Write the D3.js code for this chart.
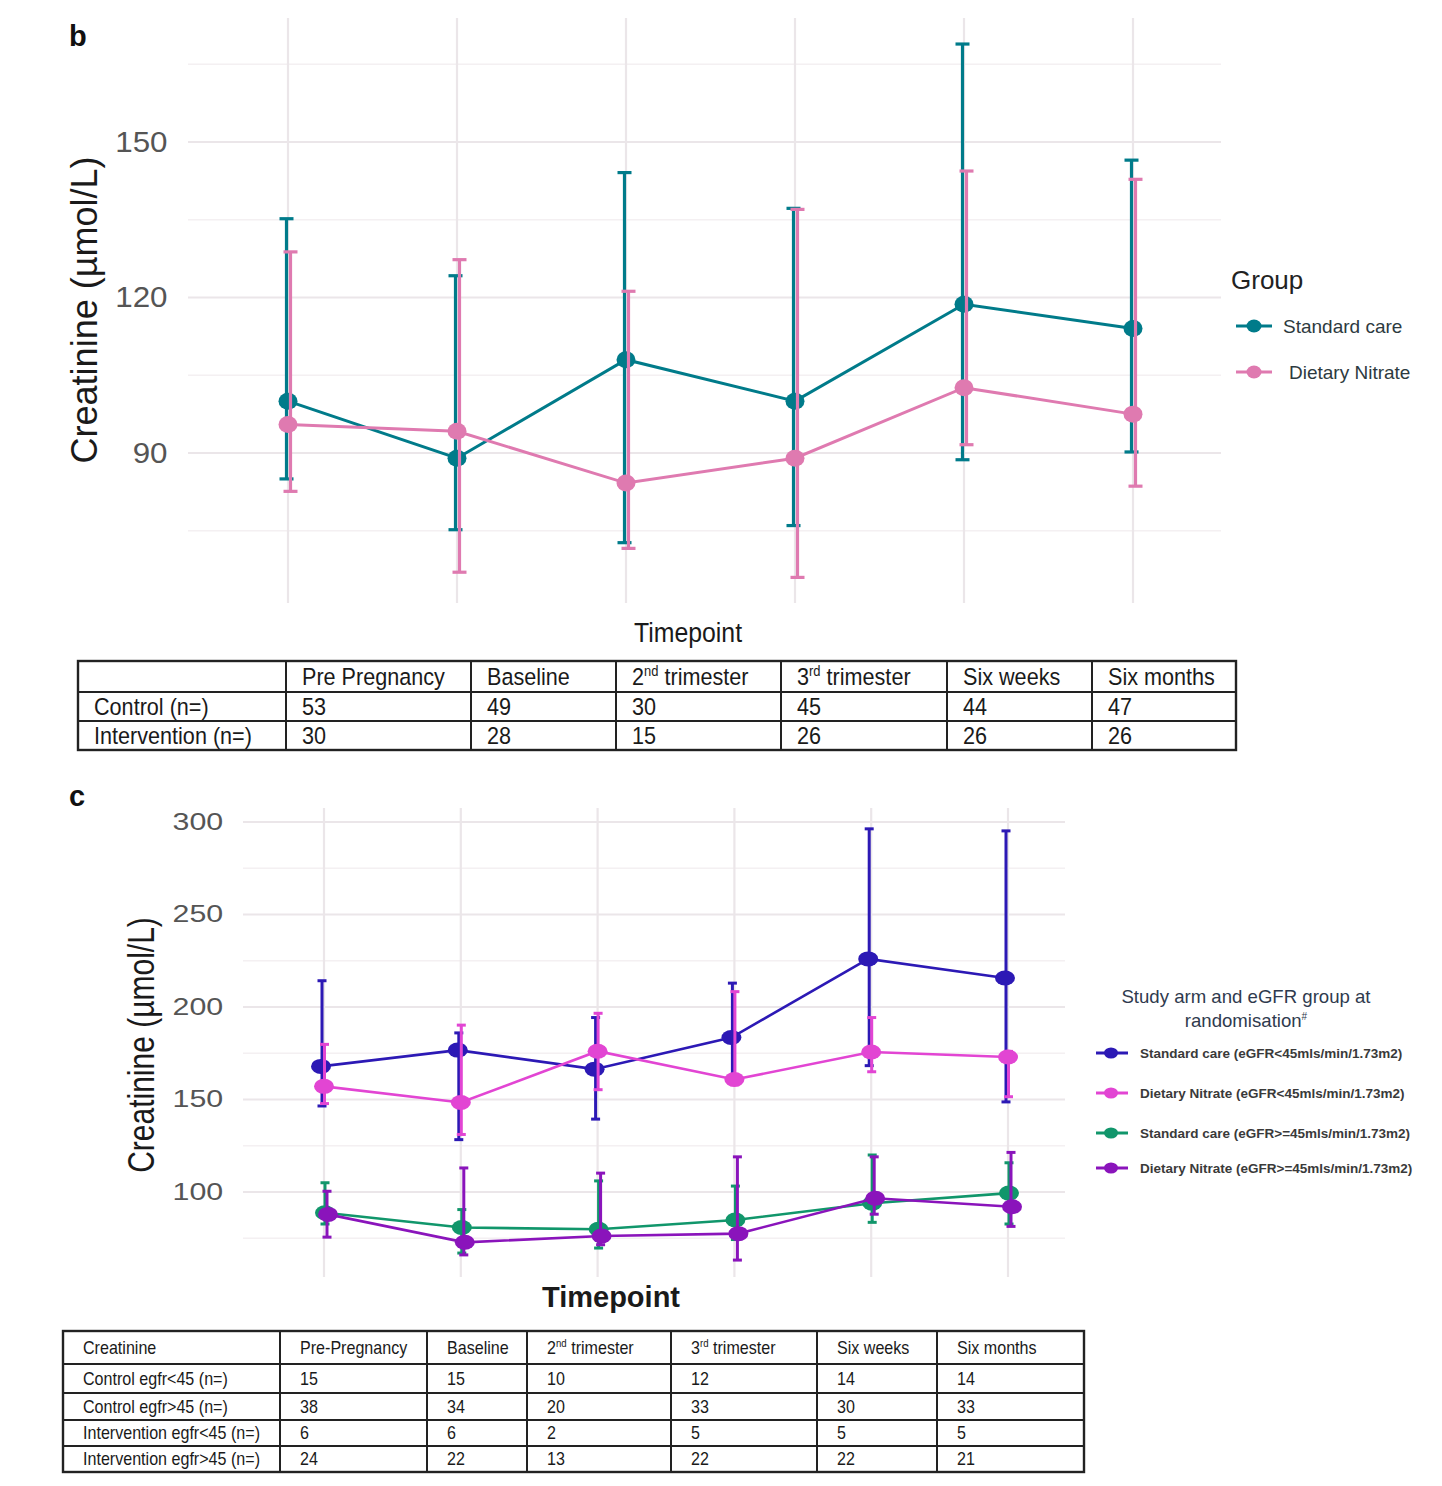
<!DOCTYPE html>
<html>
<head>
<meta charset="utf-8">
<script src="https://cdn.jsdelivr.net/npm/d3@7"></script>
<style>
  body { margin: 0; background: #fff; }
  text { font-family: "Liberation Sans", Arial, sans-serif; }
</style>
</head>
<body>
<svg id="fig" width="1442" height="1486"></svg>
<script>
// ---- data: panel b ----
var timepoints = ["Pre Pregnancy", "Baseline", "2nd trimester", "3rd trimester", "Six weeks", "Six months"];
var groupsB = ["Standard care", "Dietary Nitrate"];
var stdMean = [100, 89, 108, 100, 118.7, 114];
var stdLow  = [85, 75.2, 72.7, 76, 88.7, 90.2];
var stdHigh = [135.2, 124.2, 144.1, 137.2, 168.9, 146.5];
var nitMean = [95.5, 94.2, 84.2, 89, 102.6, 97.5];
var nitLow  = [82.6, 67, 71.6, 66, 91.6, 83.6];
var nitHigh = [128.8, 127.3, 121.2, 137, 144.4, 142.8];
var ticksB = [90, 120, 150];
var minorB = [75, 105, 135, 165];

// n table under b
var tableBHead = ["", "Pre Pregnancy", "Baseline", "2nd trimester", "3rd trimester", "Six weeks", "Six months"];
var tableBRows = ["Control (n=)", "Intervention (n=)"];
var controlN = [53, 49, 30, 45, 44, 47];
var interventionN = [30, 28, 15, 26, 26, 26];

// ---- data: panel c ----
var groupsC = ["Standard care (eGFR<45mls/min/1.73m2)", "Dietary Nitrate (eGFR<45mls/min/1.73m2)",
               "Standard care (eGFR>=45mls/min/1.73m2)", "Dietary Nitrate (eGFR>=45mls/min/1.73m2)"];
var scLoMean = [167.9, 176.7, 166.4, 183.5, 226, 215.7];
var scLoLow  = [146.5, 128.3, 139.4, 159, 168.3, 148.7];
var scLoHigh = [214.2, 186, 194.3, 212.9, 296.3, 295.2];
var dnLoMean = [157.1, 148.4, 176.1, 160.8, 175.7, 173];
var dnLoLow  = [147.8, 131.1, 155.3, 158, 165, 151.5];
var dnLoHigh = [179.8, 190.2, 196.6, 208.3, 194.3, 176];
var scHiMean = [88.8, 80.8, 79.9, 84.9, 93.9, 99.4];
var scHiLow  = [82.7, 67, 69.7, 74.3, 83.6, 82.7];
var scHiHigh = [105, 90.5, 106, 103.2, 120, 115.8];
var dnHiMean = [87.9, 72.8, 76.2, 77.5, 96.6, 92];
var dnHiLow  = [75.6, 66, 71.5, 63.2, 88, 81.4];
var dnHiHigh = [100.4, 113, 110.2, 119, 119, 121.4];
var ticksC = [100, 150, 200, 250, 300];
var minorC = [75, 125, 175, 225, 275];

// n table under c
var tableCHead = ["Creatinine", "Pre-Pregnancy", "Baseline", "2nd trimester", "3rd trimester", "Six weeks", "Six months"];
var tableCRows = ["Control egfr<45 (n=)", "Control egfr>45 (n=)", "Intervention egfr<45 (n=)", "Intervention egfr>45 (n=)"];
var ctrlLoN = [15, 15, 10, 12, 14, 14];
var ctrlHiN = [38, 34, 20, 33, 30, 33];
var intLoN  = [6, 6, 2, 5, 5, 5];
var intHiN  = [24, 22, 13, 22, 22, 21];

var svg = d3.select("#fig");

function zip(m, lo, hi) {
  return m.map(function(v, i) { return {t: timepoints[i], m: v, lo: lo[i], hi: hi[i]}; });
}

// draws one gg-style panel (grid, axis, error bars, lines, points)
function panel(o) {
  var x = d3.scalePoint().domain(timepoints).range(o.xRange);
  var y = d3.scaleLinear().domain(o.yDomain).range(o.yRange);
  var g = svg.append("g");

  g.selectAll(".minor").data(o.minor).enter().append("line")
    .attr("x1", o.gridX[0]).attr("x2", o.gridX[1])
    .attr("y1", y).attr("y2", y)
    .style("stroke", "#f4f0f2").style("stroke-width", 1.6);
  g.selectAll(".major").data(o.ticks).enter().append("line")
    .attr("x1", o.gridX[0]).attr("x2", o.gridX[1])
    .attr("y1", y).attr("y2", y)
    .style("stroke", "#ebe6e9").style("stroke-width", 2.2);
  g.selectAll(".vgrid").data(timepoints).enter().append("line")
    .attr("x1", x).attr("x2", x)
    .attr("y1", o.gridY[0]).attr("y2", o.gridY[1])
    .style("stroke", "#ebe6e9").style("stroke-width", 2.2);

  var ax = g.append("g").attr("transform", "translate(" + o.gridX[0] + ",0)")
    .call(d3.axisLeft(y).tickValues(o.ticks).tickSize(0).tickPadding(o.tickPad));
  ax.select(".domain").remove();
  ax.selectAll("text").style("font-size", o.tickFont + "px").style("fill", "#555")
    .attr("transform", "scale(" + o.tickStretch + ",1)");

  o.series.forEach(function(s) {
    var d = zip(s.m, s.lo, s.hi);
    var gs = g.append("g");
    gs.selectAll(".eb").data(d).enter().append("line")
      .attr("x1", function(e) { return x(e.t) + s.dx; }).attr("x2", function(e) { return x(e.t) + s.dx; })
      .attr("y1", function(e) { return y(e.lo); }).attr("y2", function(e) { return y(e.hi); })
      .style("stroke", s.color).style("stroke-width", o.barW);
    ["lo", "hi"].forEach(function(k) {
      gs.selectAll(".cap" + k).data(d).enter().append("line")
        .attr("x1", function(e) { return x(e.t) + s.dx - o.capW; })
        .attr("x2", function(e) { return x(e.t) + s.dx + o.capW; })
        .attr("y1", function(e) { return y(e[k]); }).attr("y2", function(e) { return y(e[k]); })
        .style("stroke", s.color).style("stroke-width", o.barW);
    });
    gs.append("path").datum(d)
      .attr("d", d3.line().x(function(e) { return x(e.t) + s.pdx; }).y(function(e) { return y(e.m); }))
      .style("fill", "none").style("stroke", s.color).style("stroke-width", o.lineW);
    gs.selectAll(".pt").data(d).enter().append("ellipse")
      .attr("cx", function(e) { return x(e.t) + s.pdx; }).attr("cy", function(e) { return y(e.m); })
      .attr("rx", o.rx).attr("ry", o.ry).style("fill", s.color);
  });
}

// text with "2nd"/"3rd" superscripts
function supText(sel, label, size) {
  var mm = /^(\d)(nd|rd)(.*)$/.exec(label);
  if (!mm) { sel.text(label); return; }
  sel.append("tspan").text(mm[1]);
  sel.append("tspan").text(mm[2]).style("font-size", (size * 0.6) + "px").attr("dy", -size * 0.38);
  sel.append("tspan").text(mm[3]).attr("dy", size * 0.38);
}

function table(o) {
  var g = svg.append("g");
  var rows = [o.head].concat(o.rows.map(function(r, i) { return [r].concat(o.values[i]); }));
  g.append("rect").attr("x", o.cols[0]).attr("y", o.rowY[0])
    .attr("width", o.cols[o.cols.length - 1] - o.cols[0]).attr("height", o.rowY[o.rowY.length - 1] - o.rowY[0])
    .style("fill", "none").style("stroke", "#222").style("stroke-width", 2.4);
  o.rowY.slice(1, -1).forEach(function(yy) {
    g.append("line").attr("x1", o.cols[0]).attr("x2", o.cols[o.cols.length - 1]).attr("y1", yy).attr("y2", yy)
      .style("stroke", "#222").style("stroke-width", 2);
  });
  o.cols.slice(1, -1).forEach(function(xx) {
    g.append("line").attr("x1", xx).attr("x2", xx).attr("y1", o.rowY[0]).attr("y2", o.rowY[o.rowY.length - 1])
      .style("stroke", "#222").style("stroke-width", 2);
  });
  rows.forEach(function(r, ri) {
    r.forEach(function(cell, ci) {
      var tx = o.cols[ci] + o.pad, ty = (o.rowY[ri] + o.rowY[ri + 1]) / 2 + o.font * 0.36;
      var t = g.append("text")
        .attr("transform", "translate(" + tx + "," + ty + ") scale(" + o.sx + ",1)")
        .style("font-size", o.font + "px").style("fill", "#1a1a1a");
      supText(t, String(cell), o.font);
    });
  });
}

// ---------- panel b ----------
svg.append("text").attr("x", 69).attr("y", 46).text("b")
  .style("font-weight", "bold").style("font-size", "29px").style("fill", "#111");

panel({
  xRange: [288, 1133], gridX: [188, 1221], gridY: [18, 603],
  yDomain: [90, 150], yRange: [453, 142],
  ticks: ticksB, minor: minorB, tickPad: 19, tickFont: 29, tickStretch: 1.08,
  barW: 3.2, capW: 7, lineW: 3, rx: 9.5, ry: 8.5,
  series: [
    {m: stdMean, lo: stdLow, hi: stdHigh, color: "#007b8a", dx: -1.5, pdx: 0},
    {m: nitMean, lo: nitLow, hi: nitHigh, color: "#df7ab0", dx: 2.5, pdx: 0}
  ]
});

svg.append("text").attr("transform", "translate(97,310) rotate(-90)").attr("text-anchor", "middle")
  .text("Creatinine (\u00b5mol/L)").style("font-size", "36px").style("fill", "#1a1a1a");
svg.append("text").attr("transform", "translate(688,642) scale(0.92,1)").attr("text-anchor", "middle")
  .text("Timepoint").style("font-size", "27px").style("fill", "#1a1a1a");

// legend b
var legB = svg.append("g");
legB.append("defs").append("clipPath").attr("id", "clipB").append("rect")
  .attr("x", 1220).attr("y", 250).attr("width", 192).attr("height", 150);
legB.append("text").attr("x", 1231).attr("y", 289).text("Group")
  .style("font-size", "26px").style("fill", "#222");
var legBColors = ["#007b8a", "#df7ab0"];
var legBY = [326, 372];
var legBX = [1283, 1289];
groupsB.forEach(function(name, i) {
  var gi = legB.append("g").attr("clip-path", "url(#clipB)");
  gi.append("line").attr("x1", 1236).attr("x2", 1272).attr("y1", legBY[i]).attr("y2", legBY[i])
    .style("stroke", legBColors[i]).style("stroke-width", 3);
  gi.append("ellipse").attr("cx", 1254).attr("cy", legBY[i]).attr("rx", 7.5).attr("ry", 6.5).style("fill", legBColors[i]);
  gi.append("text").attr("x", legBX[i]).attr("y", legBY[i] + 7).text(name)
    .style("font-size", "19px").style("fill", "#2d3a40");
});

table({
  cols: [78, 286, 471, 616, 781, 947, 1092, 1236], rowY: [661, 692, 721, 750],
  head: tableBHead, rows: tableBRows, values: [controlN, interventionN], pad: 16, font: 23.5, sx: 0.92
});

// ---------- panel c ----------
svg.append("text").attr("x", 69).attr("y", 806).text("c")
  .style("font-weight", "bold").style("font-size", "29px").style("fill", "#111");

var colorsC = ["#2c19b5", "#e245d3", "#11966b", "#8a14bb"];
panel({
  xRange: [324, 1008], gridX: [243, 1065], gridY: [808, 1277],
  yDomain: [100, 300], yRange: [1192, 822],
  ticks: ticksC, minor: minorC, tickPad: 15, tickFont: 23, tickStretch: 1.32,
  barW: 3, capW: 4.5, lineW: 2.6, rx: 10, ry: 7.5,
  series: [
    {m: scLoMean, lo: scLoLow, hi: scLoHigh, color: colorsC[0], dx: -2, pdx: -3},
    {m: dnLoMean, lo: dnLoLow, hi: dnLoHigh, color: colorsC[1], dx: 0.5, pdx: 0},
    {m: scHiMean, lo: scHiLow, hi: scHiHigh, color: colorsC[2], dx: 1, pdx: 1},
    {m: dnHiMean, lo: dnHiLow, hi: dnHiHigh, color: colorsC[3], dx: 3, pdx: 4}
  ]
});

svg.append("text").attr("transform", "translate(154,1045) rotate(-90) scale(1,1.2)").attr("text-anchor", "middle")
  .text("Creatinine (\u00b5mol/L)").style("font-size", "30px").style("fill", "#1a1a1a");
svg.append("text").attr("x", 611).attr("y", 1307).attr("text-anchor", "middle")
  .text("Timepoint").style("font-size", "29px").style("font-weight", "bold").style("fill", "#1a1a1a");

// legend c
var legC = svg.append("g");
legC.append("text").attr("x", 1246).attr("y", 1003).attr("text-anchor", "middle")
  .text("Study arm and eGFR group at").style("font-size", "18.6px").style("fill", "#2f3a4e");
var rnd = legC.append("text").attr("x", 1246).attr("y", 1027).attr("text-anchor", "middle")
  .style("font-size", "18.6px").style("fill", "#2f3a4e");
rnd.append("tspan").text("randomisation");
rnd.append("tspan").text("#").style("font-size", "10px").attr("dy", -7);
var legCY = [1053, 1093, 1133, 1168];
groupsC.forEach(function(name, i) {
  legC.append("line").attr("x1", 1096).attr("x2", 1128).attr("y1", legCY[i]).attr("y2", legCY[i])
    .style("stroke", colorsC[i]).style("stroke-width", 3);
  legC.append("ellipse").attr("cx", 1111).attr("cy", legCY[i]).attr("rx", 7).attr("ry", 5.5).style("fill", colorsC[i]);
  legC.append("text").attr("x", 1140).attr("y", legCY[i] + 5).text(name)
    .style("font-size", "13.5px").style("font-weight", "bold").style("fill", "#3a3a3a");
});

table({
  cols: [63, 280, 427, 527, 671, 817, 937, 1084], rowY: [1331, 1364, 1393, 1420, 1446, 1472],
  head: tableCHead, rows: tableCRows, values: [ctrlLoN, ctrlHiN, intLoN, intHiN], pad: 20, font: 17.5, sx: 0.92
});
</script>
</body>
</html>
